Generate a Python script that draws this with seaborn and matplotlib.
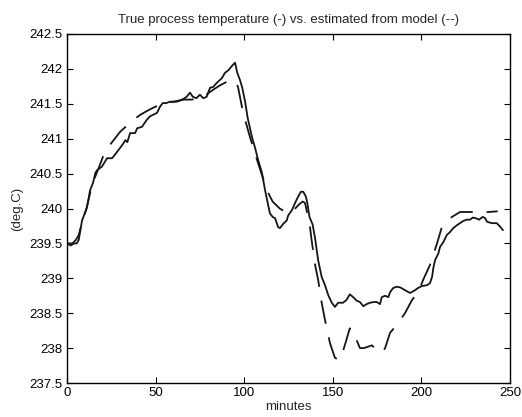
"""
Process temperature: measured value vs. model estimate.
Values read off the reference figure.
"""

import matplotlib
matplotlib.use("Agg")
import matplotlib.pyplot as plt
import matplotlib.ticker as mticker
import pandas as pd
import seaborn as sns

# ── data ──────────────────────────────────────────────────────────
true_min = [0, 2, 4, 5.5, 6.6, 8.5, 11.3, 13, 14.7, 16, 17, 19.7, 22.6, 25.4,
            27, 30, 32, 32.9, 34, 35.6, 38.4, 39.6, 42.3, 45, 46.8, 50.8, 52.5,
            54, 56, 58, 62, 63.8, 65.7, 67.5, 69.4, 71, 73, 75, 76.9, 78.8,
            80.7, 82.4, 84.5, 87.5, 89, 91, 93, 94.8, 96, 97.6, 98.8, 100.5,
            102, 104.4, 106, 107.8, 110, 111.7, 112.9, 113.5, 114.5, 116,
            117.4, 118.4, 119.2, 120.2, 122, 124, 124.8, 127, 128.7, 130.4,
            132, 133.3, 134.8, 135.6, 136.8, 138.6, 140, 141.7, 143.7, 145.6,
            147.4, 149.4, 151.2, 153, 155.8, 157.7, 159.6, 161.5, 163.4, 165.3,
            167.2, 169, 171, 173, 174.8, 176.6, 177.6, 179.5, 181.3, 182.3,
            184, 186, 188, 190.7, 193.6, 196.4, 198, 200.3, 203, 204.8, 206,
            206.8, 207.7, 209.6, 210.5, 212.4, 214.3, 216, 218, 220, 221.8,
            223.5, 225.5, 227.4, 229, 230.8, 232.5, 234.6, 236, 237, 239.7,
            242.5, 244.4, 246]
true_temp = [239.50, 239.47, 239.50, 239.50, 239.55, 239.83, 240.02, 240.26,
             240.37, 240.51, 240.55, 240.60, 240.72, 240.72, 240.77, 240.87,
             240.94, 240.98, 240.95, 241.08, 241.08, 241.15, 241.17, 241.27,
             241.32, 241.37, 241.46, 241.51, 241.51, 241.53, 241.53, 241.55,
             241.57, 241.60, 241.66, 241.60, 241.58, 241.63, 241.58, 241.60,
             241.73, 241.74, 241.80, 241.87, 241.94, 241.98, 242.04, 242.09,
             241.95, 241.84, 241.74, 241.53, 241.29, 241.02, 240.88, 240.70,
             240.51, 240.27, 240.12, 240.05, 239.93, 239.88, 239.86, 239.79,
             239.73, 239.72, 239.78, 239.83, 239.90, 239.98, 240.08, 240.17,
             240.24, 240.24, 240.17, 240.08, 239.88, 239.77, 239.57, 239.26,
             239.02, 238.90, 238.76, 238.65, 238.59, 238.65, 238.65, 238.69,
             238.77, 238.73, 238.68, 238.66, 238.60, 238.63, 238.65, 238.66,
             238.66, 238.63, 238.73, 238.75, 238.73, 238.80, 238.86, 238.88,
             238.87, 238.83, 238.79, 238.83, 238.86, 238.89, 238.90, 238.93,
             239.02, 239.16, 239.26, 239.36, 239.45, 239.52, 239.62, 239.66,
             239.72, 239.76, 239.79, 239.82, 239.84, 239.84, 239.87, 239.86,
             239.84, 239.88, 239.86, 239.81, 239.79, 239.79, 239.74, 239.69]

model_min = [0, 3, 5, 6.6, 8.5, 11, 13, 15, 17.9, 20.7, 23, 25.4, 30, 34.8,
             38, 41.2, 46, 50, 53.6, 58, 62, 66, 70, 74, 78, 82.4, 86, 89, 92,
             94, 95.5, 96.5, 99.3, 101.6, 103.5, 105.5, 107.8, 110, 112.3, 114,
             116, 120, 124.8, 128, 131, 133, 134.3, 137, 138, 140, 141.7,
             143.7, 145.6, 148.4, 151.2, 154, 156, 157.7, 159.5, 161, 163,
             165.3, 167.5, 169.8, 172, 174.8, 177.6, 179.5, 182.3, 186, 190.7,
             194.7, 198, 201, 204.8, 208.8, 211.6, 216, 221.8, 225, 229, 234.6,
             238, 243]
model_temp = [239.50, 239.50, 239.55, 239.62, 239.80, 240.00, 240.22, 240.40,
              240.58, 240.77, 240.87, 240.95, 241.10, 241.21, 241.28, 241.34,
              241.41, 241.46, 241.49, 241.52, 241.54, 241.56, 241.56, 241.57,
              241.62, 241.70, 241.76, 241.80, 241.84, 241.84, 241.80, 241.74,
              241.38, 241.17, 241.00, 240.84, 240.65, 240.48, 240.31, 240.20,
              240.10, 240.00, 239.93, 239.98, 240.06, 240.10, 240.08, 239.76,
              239.55, 239.19, 238.98, 238.65, 238.40, 238.07, 237.86, 237.83,
              237.98, 238.12, 238.28, 238.28, 238.14, 238.00, 238.00, 238.02,
              238.04, 237.97, 237.93, 238.00, 238.22, 238.33, 238.50, 238.69,
              238.79, 238.98, 239.19, 239.50, 239.74, 239.86, 239.95, 239.95,
              239.95, 239.94, 239.95, 239.96]

x_ticks = [0, 50, 100, 150, 200, 250]
y_ticks = [237.5, 238, 238.5, 239, 239.5, 240, 240.5, 241, 241.5, 242, 242.5]

true_df = pd.DataFrame({"minutes": true_min, "temp": true_temp})
model_df = pd.DataFrame({"minutes": model_min, "temp": model_temp})

# ── figure ────────────────────────────────────────────────────────
sns.set_style("ticks")
plt.rcParams["font.family"] = ["Liberation Sans", "DejaVu Sans"]
plt.rcParams["lines.scale_dashes"] = False

fig = plt.figure(figsize=(5.22, 4.17), dpi=100)
ax = fig.add_axes([0.1284, 0.0815, 0.8487, 0.837])

sns.lineplot(data=true_df, x="minutes", y="temp", ax=ax, sort=False,
             estimator=None, color="#151515", linewidth=1.3)
sns.lineplot(data=model_df, x="minutes", y="temp", ax=ax, sort=False,
             estimator=None, color="#151515", linewidth=1.3,
             linestyle=(0, (17, 10)))

ax.set_xlim(0, 250)
ax.set_ylim(237.5, 242.5)
ax.set_xticks(x_ticks)
ax.set_yticks(y_ticks)
ax.yaxis.set_major_formatter(mticker.FormatStrFormatter("%g"))
ax.tick_params(direction="in", length=4, width=0.8, top=True, right=True,
               labelsize=9.5, colors="black", pad=3)
for s in ax.spines.values():
    s.set_visible(True)
    s.set_linewidth(1.0)
    s.set_color("black")

ax.set_title("True process temperature (-) vs. estimated from model (--)",
             fontsize=9.5, pad=8)
ax.set_xlabel("minutes", fontsize=9.5, labelpad=1)
ax.set_ylabel("(deg.C)", fontsize=9.5, labelpad=5)

fig.savefig("out.png", dpi=100)
